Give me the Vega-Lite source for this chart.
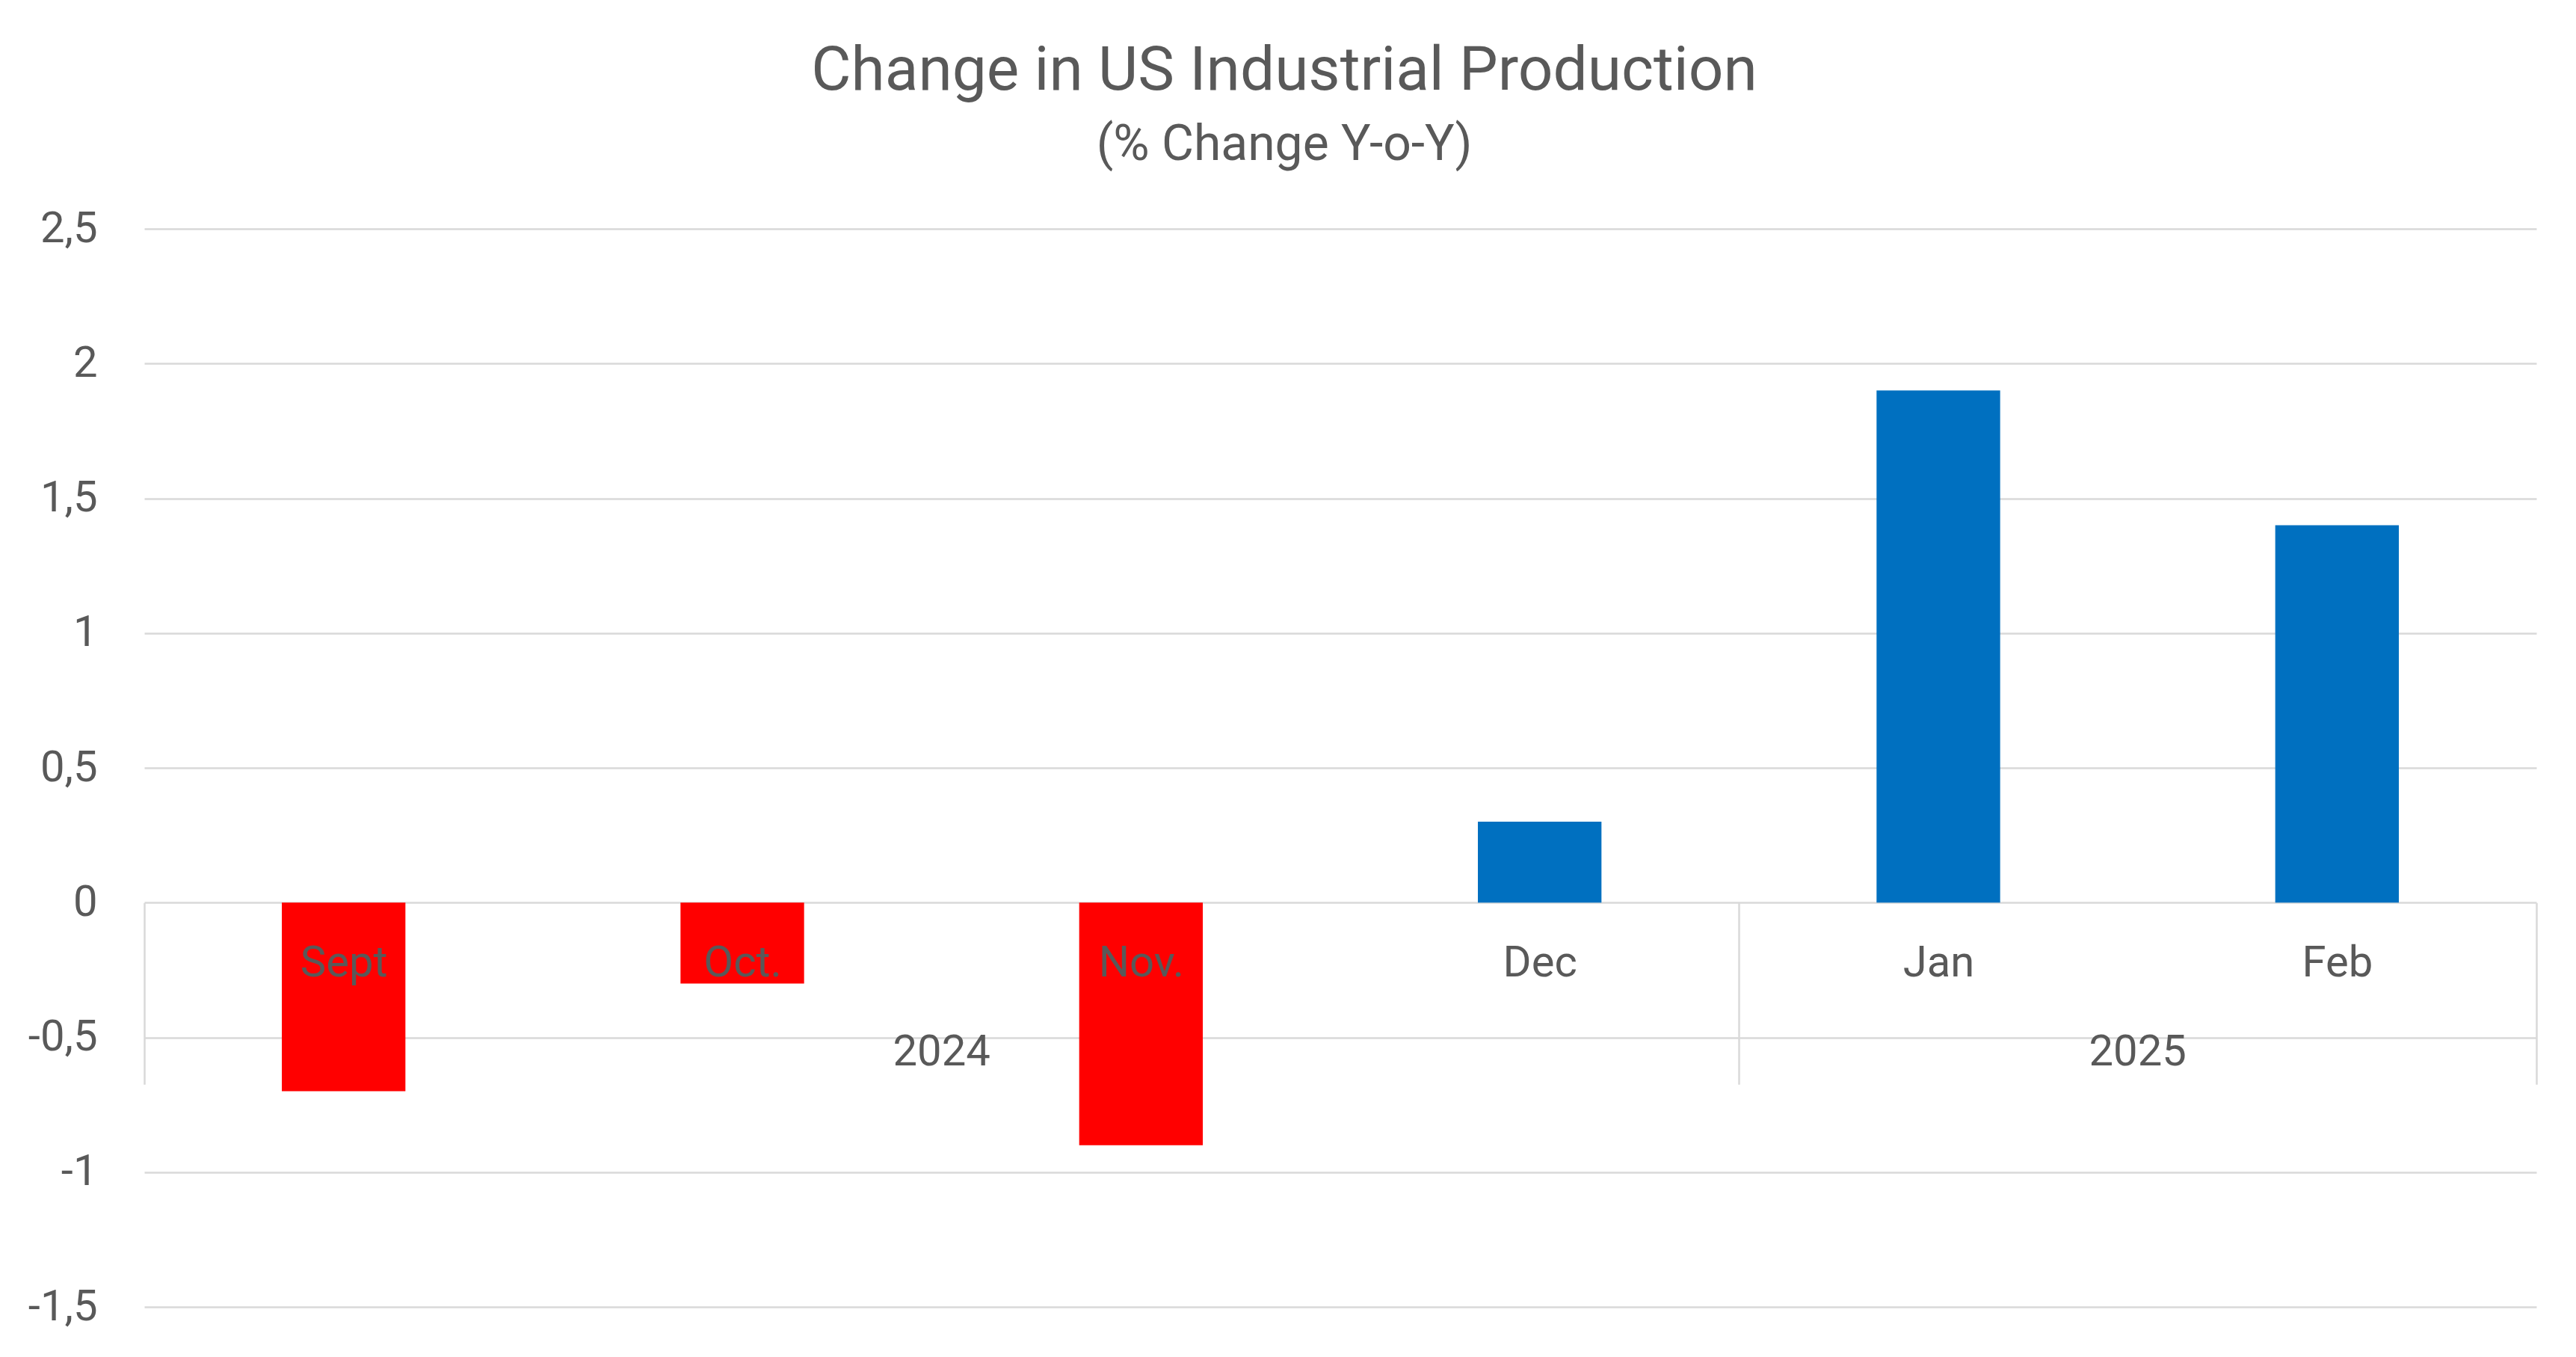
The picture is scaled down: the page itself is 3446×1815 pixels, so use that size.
{
  "$schema": "https://vega.github.io/schema/vega-lite/v6.json",
  "width": 3200,
  "height": 1442,
  "autosize": {"type": "none"},
  "padding": {"left": 193, "top": 306, "right": 53, "bottom": 67},
  "background": "white",
  "config": {
    "font": "Roboto",
    "view": {"stroke": null}
  },
  "title": {
    "text": "Change in US Industrial Production",
    "subtitle": "(% Change Y-o-Y)",
    "fontSize": 82,
    "fontWeight": "normal",
    "color": "#595959",
    "subtitleFontSize": 66,
    "subtitleColor": "#595959",
    "subtitlePadding": 25,
    "anchor": "middle",
    "frame": "group",
    "dx": -75,
    "offset": 49
  },
  "layer": [
    {
      "data": {
        "values": [
          {"month": "Sept", "year": "2024", "value": -0.7},
          {"month": "Oct.", "year": "2024", "value": -0.3},
          {"month": "Nov.", "year": "2024", "value": -0.9},
          {"month": "Dec", "year": "2024", "value": 0.3},
          {"month": "Jan", "year": "2025", "value": 1.9},
          {"month": "Feb", "year": "2025", "value": 1.4}
        ]
      },
      "mark": {"type": "bar", "width": {"band": 0.31}},
      "encoding": {
        "x": {
          "field": "month",
          "type": "nominal",
          "sort": null,
          "scale": {"paddingInner": 0, "paddingOuter": 0},
          "axis": {
            "orient": "bottom",
            "title": null,
            "offset": {"expr": "scale('y', 0) - height"},
            "domain": false,
            "grid": false,
            "ticks": true,
            "tickBand": "extent",
            "tickSize": 243,
            "tickColor": "#D9D9D9",
            "tickWidth": 2.5,
            "tickOpacity": {"condition": {"test": "datum.value === 'Dec' || datum.value === 'Feb' || datum.extra", "value": 1}, "value": 0},
            "labelAngle": 0,
            "labelFontSize": 58,
            "labelColor": "#595959",
            "labelBaseline": "alphabetic",
            "labelPadding": -145,
            "labelFlush": false,
            "labelOverlap": false,
            "zindex": 1
          }
        },
        "y": {
          "field": "value",
          "type": "quantitative",
          "scale": {"domain": [-1.5, 2.5], "nice": false, "zero": false},
          "axis": {
            "title": null,
            "values": [-1.5, -1, -0.5, 0, 0.5, 1, 1.5, 2, 2.5],
            "labelExpr": "replace(toString(datum.value), '.', ',')",
            "domain": false,
            "ticks": false,
            "grid": true,
            "gridColor": "#D9D9D9",
            "gridWidth": 2.5,
            "labelFontSize": 58,
            "labelColor": "#595959",
            "labelPadding": 63,
            "zindex": 0
          }
        },
        "color": {
          "condition": {"test": "datum.value < 0", "value": "#FF0000"},
          "value": "#0070C0"
        }
      }
    },
    {
      "data": {
        "values": [
          {"year": "2024", "month": "Nov."},
          {"year": "2025", "month": "Feb"}
        ]
      },
      "mark": {"type": "text", "fontSize": 58, "color": "#595959", "baseline": "alphabetic", "align": "center", "dy": 218},
      "encoding": {
        "x": {"field": "month", "type": "nominal", "sort": null, "bandPosition": 0},
        "y": {"datum": 0},
        "text": {"field": "year"}
      }
    }
  ]
}
